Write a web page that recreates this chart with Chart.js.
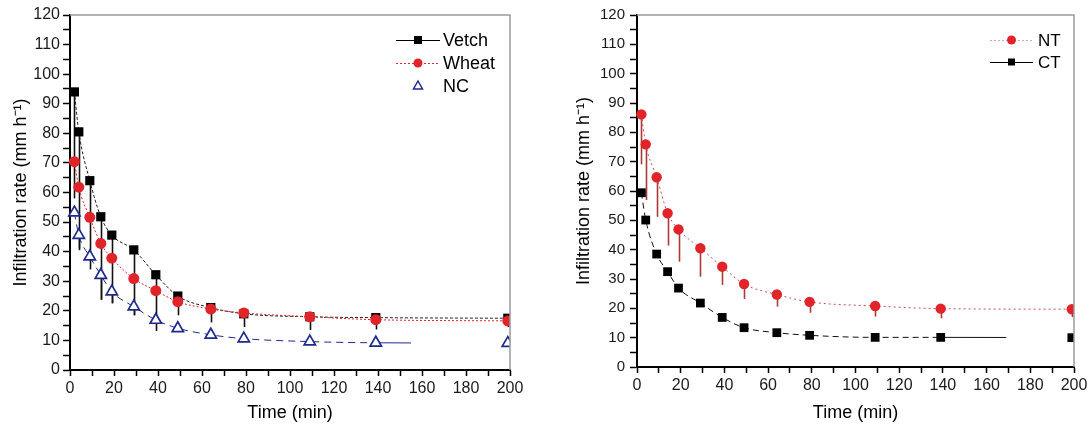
<!DOCTYPE html>
<html><head><meta charset="utf-8">
<script src="https://cdn.jsdelivr.net/npm/chart.js@4.4.1/dist/chart.umd.min.js"></script>
<style>
html,body{margin:0;padding:0;background:#fff;width:1091px;height:428px;overflow:hidden}
#c1{position:absolute;left:0;top:0}
#c2{position:absolute;left:545px;top:0}
</style></head><body>
<canvas id="c1" width="545" height="428"></canvas>
<canvas id="c2" width="546" height="428"></canvas>
<script>
// ---- data ----
const times = [2, 4, 9, 14, 19, 29, 39, 49, 64, 79, 109, 139, 199];
const vetch    = [94, 80.5, 64, 51.8, 45.6, 40.6, 32.2, 25, 21.1, 19, 18, 17.7, 17.5];
const vetchErr = [36, 40, 30, 28, 23, 22, 19, 6.5, 5, 4.5, 4.5, 4, 3];
const wheat    = [70.4, 61.8, 51.6, 42.8, 37.8, 30.9, 26.8, 23.1, 20.6, 19.3, 18, 17, 16.6];
const nc       = [53.2, 45.6, 38.3, 32.1, 26.5, 21.4, 16.9, 14.1, 11.9, 10.6, 9.6, 9.2, 9.1];
const ncErr    = [0, 4.5, 0, 8.4, 4, 3, 0, 0, 0, 0, 0, 0, 0];
const nt       = [86.1, 75.9, 64.7, 52.4, 46.9, 40.5, 34.2, 28.3, 24.7, 22.2, 20.8, 19.9, 19.7];
const ntErr    = [17, 19, 13.5, 11, 11, 9.7, 6.2, 5.1, 4.1, 3.7, 3.6, 3.3, 2.7];
const ct       = [59.4, 50.1, 38.5, 32.5, 26.9, 21.8, 16.9, 13.4, 11.7, 10.8, 10.1, 10.1, 10];
const ncLineEnd = 155;   // fitted line stops here (min)
const ctLineEnd = 169;
const xTicks = [0, 20, 40, 60, 80, 100, 120, 140, 160, 180, 200];
const yTicks = [0, 10, 20, 30, 40, 50, 60, 70, 80, 90, 100, 110, 120];
const xTitle = 'Time (min)';
const yTitle = 'Infiltration rate (mm h\u207B\u00B9)';

const FONT = "'Liberation Sans', Arial, sans-serif";
const RED = '#e0242a', BLUE = '#1e2a8c', BLACK = '#000';

function pts(arr){ return times.map((t,i)=>({x:t, y:arr[i]})); }

function lineEndSegment(endT){
  return (ctx) => {
    const n = ctx.chart.data.datasets[ctx.datasetIndex].data.length;
    if (ctx.p1DataIndex === n - 1) {
      const t0 = times[n-2], t1 = times[n-1];
      const frac = (endT - t0) / (t1 - t0);
      const len = Math.hypot(ctx.p1.x - ctx.p0.x, ctx.p1.y - ctx.p0.y);
      return [len * frac, 100000];
    }
    return undefined;
  };
}

const errPlugin = {
  id: 'err',
  beforeDatasetsDraw(chart){
    const c = chart.ctx, xs = chart.scales.x, ys = chart.scales.y;
    chart.data.datasets.forEach(ds => {
      if (!ds.err) return;
      c.save();
      c.strokeStyle = ds.errColor; c.lineWidth = 1.6;
      ds.data.forEach((p,i) => {
        const e = ds.err[i]; if (!e) return;
        const x = Math.round(xs.getPixelForValue(p.x)) + 0.5;
        c.beginPath();
        c.moveTo(x, ys.getPixelForValue(p.y));
        c.lineTo(x, ys.getPixelForValue(p.y - e));
        c.stroke();
      });
      c.restore();
    });
  }
};

const framePlugin = {
  id: 'frame',
  afterDraw(chart){
    const a = chart.chartArea, c = chart.ctx;
    c.save();
    c.strokeStyle = '#9a9a9a'; c.lineWidth = 1.5;
    c.beginPath();
    c.moveTo(a.left, a.top); c.lineTo(a.right, a.top); c.lineTo(a.right, a.bottom);
    c.stroke();
    c.restore();
  }
};

function drawMarker(c, style, x, y, r, color){
  c.save();
  c.fillStyle = color; c.strokeStyle = color;
  if (style === 'rect') { c.fillRect(x - r, y - r, 2*r, 2*r); }
  else if (style === 'circle') { c.beginPath(); c.arc(x, y, r, 0, Math.PI*2); c.fill(); }
  else if (style === 'triangle') {
    c.lineWidth = 1.5; c.beginPath();
    c.moveTo(x, y - r); c.lineTo(x + r*0.9, y + r*0.6); c.lineTo(x - r*0.9, y + r*0.6); c.closePath(); c.stroke();
  }
  c.restore();
}

function legendPlugin(items){
  return {
    id: 'customLegend',
    afterDraw(chart){
      const c = chart.ctx;
      items.forEach(it => {
        c.save();
        if (it.line) {
          c.strokeStyle = it.lineColor; c.lineWidth = 1; c.setLineDash(it.dash || []);
          c.beginPath(); c.moveTo(it.x0, it.y + 0.5); c.lineTo(it.x1, it.y + 0.5); c.stroke();
        }
        c.setLineDash([]);
        drawMarker(c, it.style, (it.x0 + it.x1)/2, it.y, it.r, it.color);
        c.fillStyle = '#000'; c.font = it.fontSize + 'px ' + FONT; c.textBaseline = 'middle';
        c.fillText(it.label, it.tx, it.y + 1);
        c.restore();
      });
    }
  };
}

function scales(yWidth, xHeight, yTickFont, yTitlePad, yTickPad){
  return {
    x: {
      type: 'linear', min: 0, max: 200,
      afterFit: s => { s.height = xHeight; },
      afterBuildTicks: s => { const arr=[]; for (let v=0; v<=200; v+=10) arr.push({value:v}); s.ticks = arr; },
      ticks: { callback: v => xTicks.includes(v) ? String(v) : '', font: {family: FONT, size: 16}, color: '#1a1a1a', maxRotation: 0, autoSkip: false, padding: 3 },
      grid: { drawOnChartArea: false, drawTicks: true, tickLength: 6, tickColor: '#000', tickWidth: 1.5 },
      border: { color: '#000', width: 2 },
      title: { display: true, text: xTitle, font: {family: FONT, size: 18}, color: '#000', padding: {top: 0, bottom: 4} }
    },
    y: {
      type: 'linear', min: 0, max: 120,
      afterFit: s => { s.width = yWidth; },
      afterBuildTicks: s => { const arr=[]; for (let v=0; v<=120; v+=5) arr.push({value:v}); s.ticks = arr; },
      ticks: { callback: v => yTicks.includes(v) ? String(v) : '', font: {family: FONT, size: yTickFont}, color: '#1a1a1a', autoSkip: false, padding: yTickPad },
      grid: { drawOnChartArea: false, drawTicks: true, tickLength: 7, tickColor: '#000', tickWidth: 1.5 },
      border: { color: '#000', width: 2 },
      title: { display: true, text: yTitle, font: {family: FONT, size: 18}, color: '#000', padding: {top: yTitlePad, bottom: 0} }
    }
  };
}

const common = {
  responsive: false, animation: false, devicePixelRatio: 1,
  plugins: { legend: { display: false }, tooltip: { enabled: false } },
};
const clip = {left: 8, top: 8, right: 0, bottom: 8};

new Chart(document.getElementById('c1'), {
  type: 'line',
  data: { datasets: [
    { label: 'NC', data: pts(nc), borderColor: BLUE, borderWidth: 1, borderDash: [7,5],
      pointStyle: 'triangle', pointRadius: 6.5, pointBorderWidth: 1.7, pointBackgroundColor: '#fff', pointBorderColor: BLUE,
      cubicInterpolationMode: 'monotone', err: ncErr, errColor: '#333', clip,
      segment: { borderDash: lineEndSegment(ncLineEnd) } },
    { label: 'Wheat', data: pts(wheat), borderColor: RED, borderWidth: 1, borderDash: [2,2],
      pointStyle: 'circle', pointRadius: 5.5, pointBackgroundColor: RED, pointBorderColor: RED, pointBorderWidth: 0,
      cubicInterpolationMode: 'monotone', clip },
    { label: 'Vetch', data: pts(vetch), borderColor: '#222', borderWidth: 1, borderDash: [3,2],
      pointStyle: 'rect', pointRadius: 6.5, pointBackgroundColor: BLACK, pointBorderColor: BLACK, pointBorderWidth: 0,
      cubicInterpolationMode: 'monotone', err: vetchErr, errColor: '#111', clip }
  ]},
  options: Object.assign({}, common, {
    layout: { padding: { left: 0, right: 35, top: 15, bottom: 0 } },
    scales: scales(70, 58, 16, 10, 3)
  }),
  plugins: [errPlugin, framePlugin, legendPlugin([
    { label: 'Vetch', style: 'rect', r: 4, color: BLACK, line: true, lineColor: '#000', x0: 396, x1: 440, y: 40, tx: 443, fontSize: 18 },
    { label: 'Wheat', style: 'circle', r: 4.5, color: RED, line: true, lineColor: RED, dash: [2,2], x0: 396, x1: 440, y: 63, tx: 443, fontSize: 18 },
    { label: 'NC', style: 'triangle', r: 5, color: BLUE, line: false, x0: 396, x1: 440, y: 86, tx: 443, fontSize: 18 }
  ])]
});

new Chart(document.getElementById('c2'), {
  type: 'line',
  data: { datasets: [
    { label: 'CT', data: pts(ct), borderColor: '#111', borderWidth: 1, borderDash: [6,4],
      pointStyle: 'rect', pointRadius: 6.2, pointBackgroundColor: BLACK, pointBorderColor: BLACK, pointBorderWidth: 0,
      cubicInterpolationMode: 'monotone', clip,
      segment: { borderDash: lineEndSegment(ctLineEnd) } },
    { label: 'NT', data: pts(nt), borderColor: '#c45050', borderWidth: 1, borderDash: [2,3],
      pointStyle: 'circle', pointRadius: 5.2, pointBackgroundColor: RED, pointBorderColor: RED, pointBorderWidth: 0,
      cubicInterpolationMode: 'monotone', err: ntErr, errColor: '#a83a3a', clip }
  ]},
  options: Object.assign({}, common, {
    layout: { padding: { left: 0, right: 17, top: 15, bottom: 0 } },
    scales: scales(92, 61, 15, 28, 5)
  }),
  plugins: [errPlugin, framePlugin, legendPlugin([
    { label: 'NT', style: 'circle', r: 4.5, color: RED, line: true, lineColor: '#e8a0a0', dash: [2,2], x0: 445, x1: 488, y: 40, tx: 493, fontSize: 17 },
    { label: 'CT', style: 'rect', r: 3.5, color: BLACK, line: true, lineColor: '#000', x0: 445, x1: 488, y: 62, tx: 493, fontSize: 17 }
  ])]
});
</script>
</body></html>
